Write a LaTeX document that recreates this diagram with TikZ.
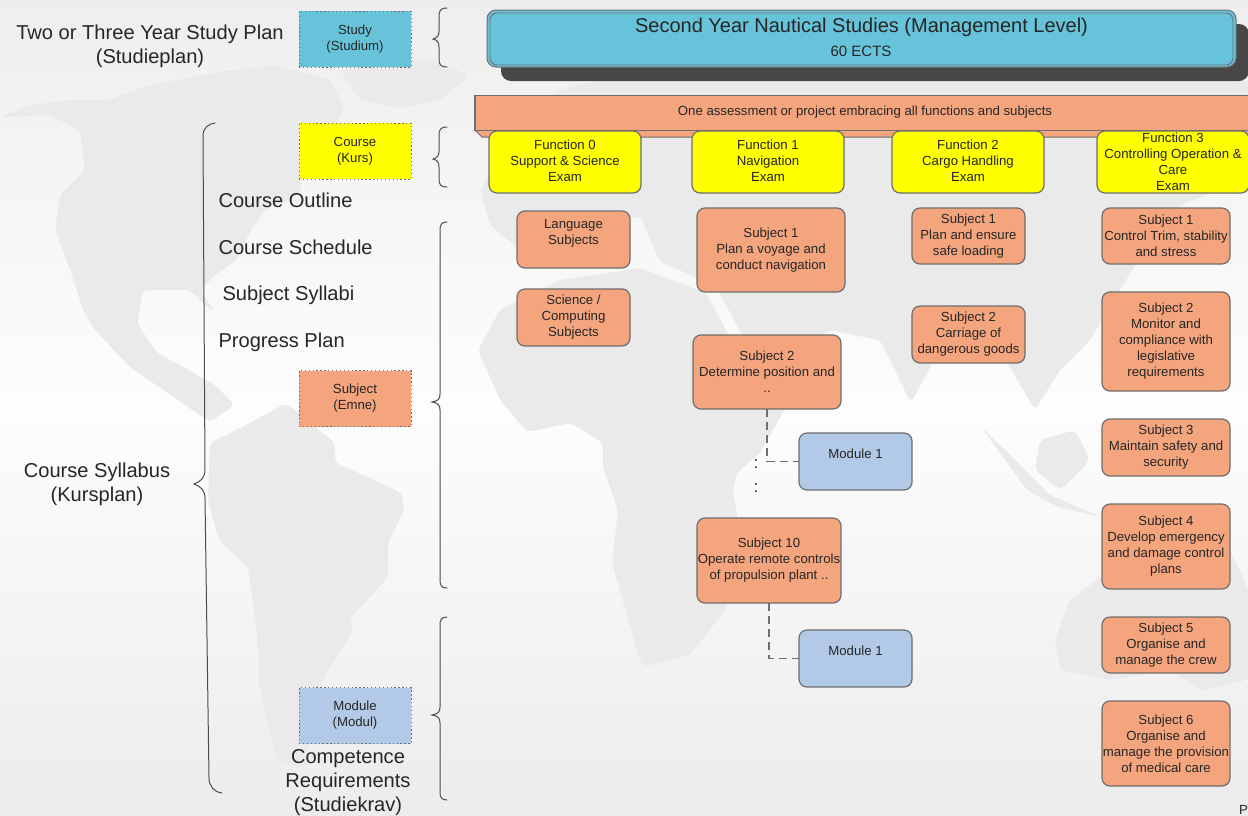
\documentclass[tikz,border=0pt]{standalone}
\usepackage{fontspec}
\setmainfont{Liberation Sans}
\usetikzlibrary{calc}
\definecolor{peach}{HTML}{F4A57E}
\definecolor{sky}{HTML}{67C3DA}
\definecolor{modblue}{HTML}{B2CAE8}
\definecolor{edgegrey}{HTML}{6E6E6E}
\definecolor{land}{HTML}{EAEAEA}
\definecolor{ink}{HTML}{262626}
\definecolor{pureyellow}{HTML}{FFFF00}
\definecolor{bgtop}{HTML}{EEEEEE}
\definecolor{bgmid}{HTML}{FDFDFD}
\definecolor{bgbot}{HTML}{ECECEC}
\tikzset{
  every node/.style={text=ink,inner sep=0pt,outer sep=0pt,align=center},
  big/.style={font=\fontsize{20.1}{24}\selectfont},
  small/.style={font=\fontsize{13.2}{16}\selectfont},
  legend/.style={small,draw=edgegrey,dash pattern=on 1.3pt off 2.6pt,line width=1pt,minimum width=112pt,minimum height=56pt},
  card/.style={small,draw=edgegrey,line width=1.2pt,rounded corners=8pt},
  subj/.style={card,fill=peach},
  func/.style={card,fill=pureyellow},
  modbox/.style={card,fill=modblue},
  brace/.style={draw=edgegrey!70!black,line width=1pt,line cap=round},
  link/.style={draw=edgegrey,line width=1.2pt,dash pattern=on 8pt off 5pt},
  continent/.style={fill=land,draw=none,rounded corners=5pt},
}
\newcommand{\lbr}[6]{% tip x, spine x, right x, top, tip y, bottom
  \draw[brace] (#3,#4) .. controls (#2+1,#4) and (#2,#4+3) .. (#2,#4+9) -- (#2,#5-8)
    .. controls (#2,#5-3) and (#2-2,#5-1) .. (#1,#5)
    .. controls (#2-2,#5+1) and (#2,#5+3) .. (#2,#5+8) -- (#2,#6-9)
    .. controls (#2,#6-3) and (#2+1,#6) .. (#3,#6);}
\begin{document}
\begin{tikzpicture}[x=1pt,y=-1pt]
\useasboundingbox (0,0) rectangle (1248,815);
\clip (0,0) rectangle (1248,815);
\shade[top color=bgtop,bottom color=bgbot,middle color=bgmid] (0,0) rectangle (1248,815);
% world map backdrop
\fill[continent] (0,117)--(30,105)--(70,100)--(110,100)--(150,85)--(220,72)--(275,65)--(330,80)--(345,108)--(335,125)--(320,135)--(303,165)--(300,195)--(265,210)--(250,232)--(236,260)--(215,275)--(200,290)--(215,312)--(205,305)--(190,290)--(143,290)--(137,323)--(157,353)--(185,368)--(215,385)--(235,405)--(210,422)--(130,367)--(95,330)--(83,310)--(72,275)--(55,230)--(60,195)--(85,170)--(80,130)--(50,115)--cycle;
\fill[continent] (340,70)--(430,60)--(470,75)--(440,100)--(400,108)--(360,100)--cycle;
\fill[continent] (210,443)--(250,423)--(286,403)--(335,443)--(335,463)--(370,478)--(402,493)--(404,510)--(388,543)--(388,577)--(370,597)--(350,617)--(353,630)--(339,653)--(326,673)--(321,687)--(304,767)--(277,763)--(259,683)--(257,633)--(248,567)--(219,540)--(208,500)--cycle;
\fill[continent] (500,400)--(527,432)--(571,423)--(603,443)--(603,467)--(618,510)--(612,563)--(638,653)--(643,667)--(690,655)--(725,610)--(745,560)--(733,490)--(737,473)--(760,453)--(790,400)--(770,385)--(745,365)--(706,293)--(640,268)--(560,280)--(500,310)--(478,350)--cycle;
\fill[continent] (480,190)--(520,120)--(560,90)--(640,70)--(760,55)--(900,50)--(1100,65)--(1248,80)--(1248,180)--(1180,205)--(1150,240)--(1120,290)--(1090,340)--(1060,370)--(1035,410)--(1000,350)--(960,320)--(945,340)--(911,403)--(880,340)--(830,330)--(795,350)--(745,340)--(715,285)--(660,262)--(640,215)--(570,245)--(520,250)--(490,225)--cycle;
\fill[continent] (981,427)--(1027,490)--(1058,507)--(1101,517)--(1050,495)--(1005,450)--cycle;
\fill[continent] (1040,440)--(1075,430)--(1090,460)--(1060,490)--(1035,470)--cycle;
\fill[continent] (1055,640)--(1070,600)--(1110,570)--(1170,540)--(1210,520)--(1235,560)--(1248,590)--(1248,680)--(1200,690)--(1170,670)--(1110,680)--(1060,670)--cycle;
% braces
\lbr{433}{439}{447}{8}{39}{67}
\lbr{433}{439}{447}{127}{159}{187}
\lbr{432}{440}{447}{222}{402}{588}
\lbr{432}{440}{447}{617}{715}{800}
\draw[brace] (215,123) .. controls (208,124) and (203,128) .. (203,136) -- (205,470)
  .. controls (205,478) and (200,482) .. (194,484)
  .. controls (200,486) and (205,490) .. (205,498) -- (209,778)
  .. controls (209,786) and (214,792) .. (222,793);
% left-hand labels
\node[big] (plan) at (150,46.5) {Two or Three Year Study Plan\\(Studieplan)};
\node[big,anchor=west] (outline) at (218.5,200) {Course Outline};
\node[big,anchor=west] (schedule) at (218.5,247) {Course Schedule};
\node[big,anchor=west] (syllabi) at (222.5,295) {Subject Syllabi};
\node[big,anchor=west] (progress) at (218.5,342) {Progress Plan};
\node[big] (syllabus) at (97,484) {Course Syllabus\\(Kursplan)};
\node[big] (compet) at (348,783) {Competence\\Requirements\\(Studiekrav)};
% legend boxes
\node[legend,fill=sky] (lstudy) at (355,39) {Study\\(Studium)};
\node[legend,fill=pureyellow] (lcourse) at (355,151) {Course\\(Kurs)};
\node[legend,fill=peach] (lsubject) at (355,398.5) {Subject\\(Emne)};
\node[legend,fill=modblue] (lmodule) at (355,715.5) {Module\\(Modul)};
% title block
\fill[black!72,rounded corners=10pt] (501,24) rectangle (1249,81);
\node[draw=edgegrey,fill=sky,line width=1pt,rounded corners=9pt,minimum width=749pt,minimum height=57pt] (titleouter) at (861.5,38.5) {};
\node[draw=edgegrey,fill=sky,line width=.9pt,rounded corners=7pt,minimum width=743pt,minimum height=52pt] (title) at (861.5,39) {};
\node[font=\fontsize{20}{24}\selectfont] (titletext) at (861.5,27.5) {Second Year Nautical Studies (Management Level)};
\node[font=\fontsize{15}{18}\selectfont] (ects) at (861,51.5) {60 ECTS};
% assessment bar
\fill[peach] (475,130)--(482,137)--(1260,137)--(1260,130)--cycle;
\draw[edgegrey,line width=1pt] (475,130)--(482,137)--(1260,137);
\node[small,draw=edgegrey,fill=peach,line width=1.2pt,minimum width=800pt,minimum height=35pt,anchor=west] (assess) at (475,113) {};
\node[small] (assesstext) at (865,112) {One assessment or project embracing all functions and subjects};
% functions
\node[func,minimum width=152pt,minimum height=62pt] (f0) at (565,162) {Function 0\\Support \& Science\\Exam\rule[-2pt]{0pt}{1pt}};
\node[func,minimum width=152pt,minimum height=62pt] (f1) at (768,162) {Function 1\\Navigation\\Exam\rule[-2pt]{0pt}{1pt}};
\node[func,minimum width=152pt,minimum height=62pt] (f2) at (968,162) {Function 2\\Cargo Handling\\Exam\rule[-2pt]{0pt}{1pt}};
\node[func,minimum width=152pt,minimum height=62pt] (f3) at (1173,162) {Function 3\\Controlling Operation \&\\Care\\Exam};
% function 0
\node[subj,minimum width=113pt,minimum height=57pt] (lang) at (573.5,239.5) {Language\\Subjects\\\mbox{}};
\node[subj,minimum width=113pt,minimum height=57pt] (sci) at (573.5,317.5) {Science /\\Computing\\Subjects};
% function 1
\node[subj,minimum width=148pt,minimum height=84pt] (n1) at (771,250) {Subject 1\\Plan a voyage and\\conduct navigation};
\node[subj,minimum width=148pt,minimum height=74pt] (n2) at (767,372) {Subject 2\\Determine position and\\..};
\node[subj,minimum width=144pt,minimum height=85pt] (n10) at (769,560.5) {Subject 10\\Operate remote controls\\of propulsion plant ..};
\node[modbox,minimum width=113pt,minimum height=57pt] (m1) at (855.5,461.5) {Module 1\\\mbox{}};
\node[modbox,minimum width=113pt,minimum height=57pt] (m2) at (855.5,658.5) {Module 1\\\mbox{}};
\draw[link] (n2.south) |- (m1.west);
\draw[link] (n10.south) |- (m2.west);
\node[font=\fontsize{17}{16}\selectfont] (dots1) at (756,464) {:};
\node[font=\fontsize{17}{16}\selectfont] (dots2) at (756,487.5) {:};
% function 2
\node[subj,minimum width=113pt,minimum height=56pt] (c1) at (968.5,236) {Subject 1\\Plan and ensure\\safe loading};
\node[subj,minimum width=113pt,minimum height=57pt] (c2) at (968.5,334.5) {Subject 2\\Carriage of\\dangerous goods};
% function 3
\node[subj,minimum width=128pt,minimum height=56pt] (o1) at (1166,236) {Subject 1\\Control Trim, stability\\and stress};
\node[subj,minimum width=128pt,minimum height=99pt] (o2) at (1166,341.5) {Subject 2\\Monitor and\\compliance with\\legislative\\requirements};
\node[subj,minimum width=128pt,minimum height=57pt] (o3) at (1166,447.5) {Subject 3\\Maintain safety and\\security};
\node[subj,minimum width=128pt,minimum height=85pt] (o4) at (1166,546.5) {Subject 4\\Develop emergency\\and damage control\\plans};
\node[subj,minimum width=128pt,minimum height=56pt] (o5) at (1166,645) {Subject 5\\Organise and\\manage the crew};
\node[subj,minimum width=128pt,minimum height=85pt] (o6) at (1166,743.5) {Subject 6\\Organise and\\manage the provision\\of medical care};
\node[small,anchor=west] (pageletter) at (1239,810) {P};
\end{tikzpicture}
\end{document}
